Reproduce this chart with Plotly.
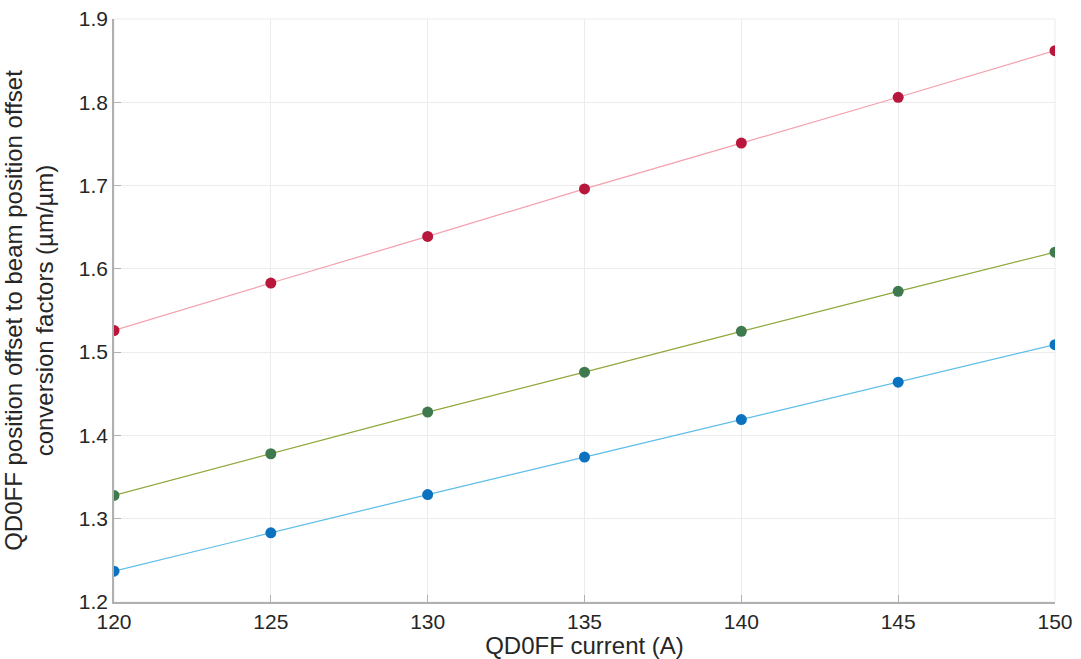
import plotly.graph_objects as go

current = [120, 125, 130, 135, 140, 145, 150]
red_vals = [1.526, 1.583, 1.639, 1.696, 1.751, 1.806, 1.862]
green_vals = [1.328, 1.378, 1.428, 1.476, 1.525, 1.573, 1.620]
blue_vals = [1.237, 1.283, 1.329, 1.374, 1.419, 1.464, 1.509]

x_ticks = [120, 125, 130, 135, 140, 145, 150]
y_ticks = [1.2, 1.3, 1.4, 1.5, 1.6, 1.7, 1.8, 1.9]

series = [
    (red_vals, "#f4a0ae", "#b8163a"),
    (green_vals, "#8fa83c", "#3f7a4f"),
    (blue_vals, "#5cbde8", "#0a72be"),
]

fig = go.Figure()
for vals, lc, mc in series:
    fig.add_trace(go.Scatter(
        x=current, y=vals, mode="lines",
        line=dict(color=lc, width=1.2), showlegend=False, hoverinfo="skip"))
    fig.add_trace(go.Scatter(
        x=current, y=vals, mode="markers",
        marker=dict(color=mc, size=11, line=dict(width=0)), showlegend=False))

font_family = "Liberation Sans, Arial, Helvetica, sans-serif"

fig.update_layout(
    width=1081, height=659,
    margin=dict(l=114, r=26, t=19, b=57),
    paper_bgcolor="white", plot_bgcolor="white",
    font=dict(family=font_family, color="#262626", size=21),
    xaxis=dict(
        range=[120, 150], tickvals=x_ticks, ticktext=[str(v) for v in x_ticks],
        automargin=False,
        showgrid=True, gridcolor="#ececec", gridwidth=1,
        showline=True, linecolor="#b0b0b0", linewidth=1.5,
        ticks="inside", ticklen=7, tickcolor="#b0b0b0",
        zeroline=False, tickfont=dict(size=21, color="#262626"),
        title=dict(text="QD0FF current (A)", font=dict(size=24, color="#262626"), standoff=0),
    ),
    yaxis=dict(
        range=[1.2, 1.9], tickvals=y_ticks, ticktext=[f"{v:.1f}" for v in y_ticks],
        automargin=False,
        showgrid=True, gridcolor="#ececec", gridwidth=1,
        showline=True, linecolor="#b0b0b0", linewidth=1.5,
        ticks="inside", ticklen=7, tickcolor="#b0b0b0",
        zeroline=False, tickfont=dict(size=21, color="#262626"),
        title=dict(text="QD0FF position offset to beam position offset<br>conversion factors (µm/µm)",
                   font=dict(size=24, color="#262626"), standoff=20),
    ),
)

fig.add_shape(type="rect", xref="paper", yref="paper", x0=0, y0=0, x1=1, y1=1,
              line=dict(color="#ececec", width=1), layer="below")

fig.write_html("out.html")
